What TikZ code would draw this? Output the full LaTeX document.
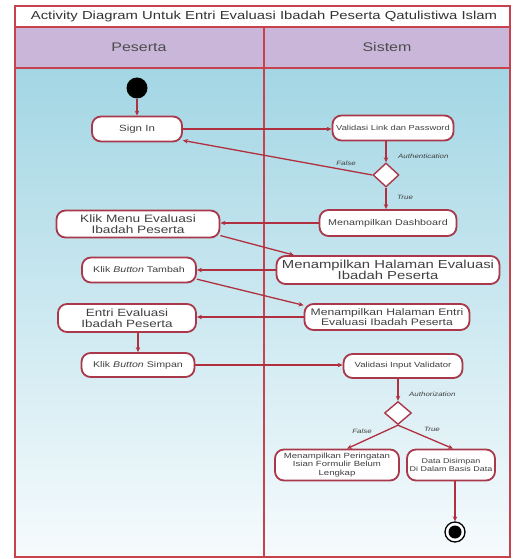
\documentclass[tikz,border=0pt]{standalone}
\usepackage{fontspec}
\setmainfont{Liberation Sans}[FakeStretch=1.28]
\usetikzlibrary{shapes.geometric,arrows.meta,calc}
\definecolor{lane}{HTML}{C8424E}
\definecolor{edgec}{HTML}{B0303F}
\definecolor{nodeb}{HTML}{A8384A}
\definecolor{hdr}{HTML}{C9B6D8}
\definecolor{bgtop}{HTML}{A3D6E4}
\definecolor{bgbot}{HTML}{F6FBFD}
\newcommand{\fs}[2]{\fontsize{#1}{#2}\selectfont}
\tikzset{
  act/.style={draw=nodeb, line width=1.8pt, fill=white, rounded corners=9pt,
    align=center, inner sep=1pt, text=black!75},
  dec/.style={diamond, draw=nodeb, line width=1.4pt, fill=white, inner sep=0pt,
    minimum width=26pt, minimum height=24pt},
  flow/.style={draw=edgec, line width=1.3pt, -{Stealth[length=5pt,width=4.5pt]}},
  lbl/.style={font=\fs{6.2}{7}\itshape, text=black!75, inner sep=1pt},
  border/.style={draw=lane, line width=1.8pt},
}
\begin{document}
\begin{tikzpicture}[x=1pt,y=-1pt]
\useasboundingbox (0,0) rectangle (514,559);
% body
\shade[top color=bgtop, bottom color=bgbot] (15,68) rectangle (510,557);
\fill[white] (15,6) rectangle (510,27);
\fill[hdr] (15,27) rectangle (510,68);
\draw[border] (15,6) rectangle (510,557);
\draw[border] (15,27) -- (510,27);
\draw[border] (15,68) -- (510,68);
\draw[border] (264,27) -- (264,557);
\node[font=\fs{11.6}{13}, text=black!80] (title) at (264,16.5)
  {Activity Diagram Untuk Entri Evaluasi Ibadah Peserta Qatulistiwa Islam};
\node[font=\fs{12.5}{14}, text=black!70] (hp) at (139,47) {Peserta};
\node[font=\fs{12.5}{14}, text=black!70] (hs) at (387,47) {Sistem};

% nodes
\node[circle, fill=black, minimum size=21pt, inner sep=0pt] (start) at (137,88) {};
\node[act, minimum width=90pt, minimum height=25pt, font=\fs{9}{10}] (signin) at (137,129) {Sign In};
\node[act, minimum width=121pt, minimum height=25pt, font=\fs{7.3}{8}] (vlp) at (393,128) {Validasi Link dan Password};
\node[dec] (d1) at (386,175) {};
\node[act, minimum width=137pt, minimum height=26pt, font=\fs{8.4}{9}] (dash) at (388,223) {Menampilkan Dashboard};
\node[act, minimum width=163pt, minimum height=27pt, font=\fs{10.7}{10.5}] (menu) at (138,224) {Klik Menu Evaluasi\\Ibadah Peserta};
\node[act, minimum width=223pt, minimum height=28pt, font=\fs{11.6}{11.5}] (mhe) at (388,270) {Menampilkan Halaman Evaluasi\\Ibadah Peserta};
\node[act, minimum width=114pt, minimum height=25pt, font=\fs{8.3}{9}] (tambah) at (139,270) {Klik \textit{Button} Tambah};
\node[act, minimum width=165pt, minimum height=26pt, font=\fs{9.5}{9.5}] (mhen) at (387,317) {Menampilkan Halaman Entri\\Evaluasi Ibadah Peserta};
\node[act, minimum width=138pt, minimum height=28pt, font=\fs{10.5}{10.5}] (entri) at (127,318) {Entri Evaluasi\\Ibadah Peserta};
\node[act, minimum width=113pt, minimum height=24pt, font=\fs{8.3}{9}] (simpan) at (138,365) {Klik \textit{Button} Simpan};
\node[act, minimum width=119pt, minimum height=24pt, font=\fs{7.5}{8}] (vin) at (403,366) {Validasi Input Validator};
\node[dec, minimum width=27pt, minimum height=23pt] (d2) at (398,413) {};
\node[act, minimum width=124pt, minimum height=31pt, font=\fs{7.5}{8.3}] (warn) at (337,465) {Menampilkan Peringatan\\Isian Formulir Belum\\Lengkap};
\node[act, minimum width=88pt, minimum height=31pt, font=\fs{7}{8.5}] (saved) at (451,465) {Data Disimpan\\Di Dalam Basis Data};
\node[circle, draw=black, line width=1.3pt, fill=white, minimum size=20pt, inner sep=0pt] (end) at (455,532) {};
\node[circle, fill=black, minimum size=13pt, inner sep=0pt] (endin) at (end) {};

% edges
\draw[flow] (start) -- (start |- signin.north);
\draw[flow] (signin.east) -- (signin.east -| vlp.west);
\draw[flow] (vlp.south -| d1.north) -- (d1.north);
\node[lbl, anchor=west] (la) at (397,156) {Authentication};
\draw[flow] (d1.west) -- (signin.-14);
\node[lbl] (lf1) at (346,163) {False};
\draw[flow] (d1.south) -- (dash.north -| d1.south);
\node[lbl, anchor=west] (lt1) at (396,197) {True};
\draw[flow] (dash.west) -- (dash.west -| menu.east);
\draw[flow] (menu.-8) -- (mhe.171);
\draw[flow] (mhe.west) -- (mhe.west -| tambah.east);
\draw[flow] (tambah.-9) -- (mhen.172);
\draw[flow] (mhen.west) -- (mhen.west -| entri.east);
\draw[flow] (entri.south -| simpan.north) -- (simpan.north);
\draw[flow] (simpan.east) -- (simpan.east -| vin.west);
\draw[flow] (vin.south -| d2.north) -- (d2.north);
\node[lbl, anchor=west] (lau) at (408,394) {Authorization};
\draw[flow] (d2.south) -- (warn.north -| 347,0);
\node[lbl] (lf2) at (362,431) {False};
\draw[flow] (d2.south) -- (saved.north -| 453,0);
\node[lbl] (lt2) at (432,429) {True};
\draw[flow] (saved.south -| end.north) -- (end.north);
\end{tikzpicture}
\end{document}
